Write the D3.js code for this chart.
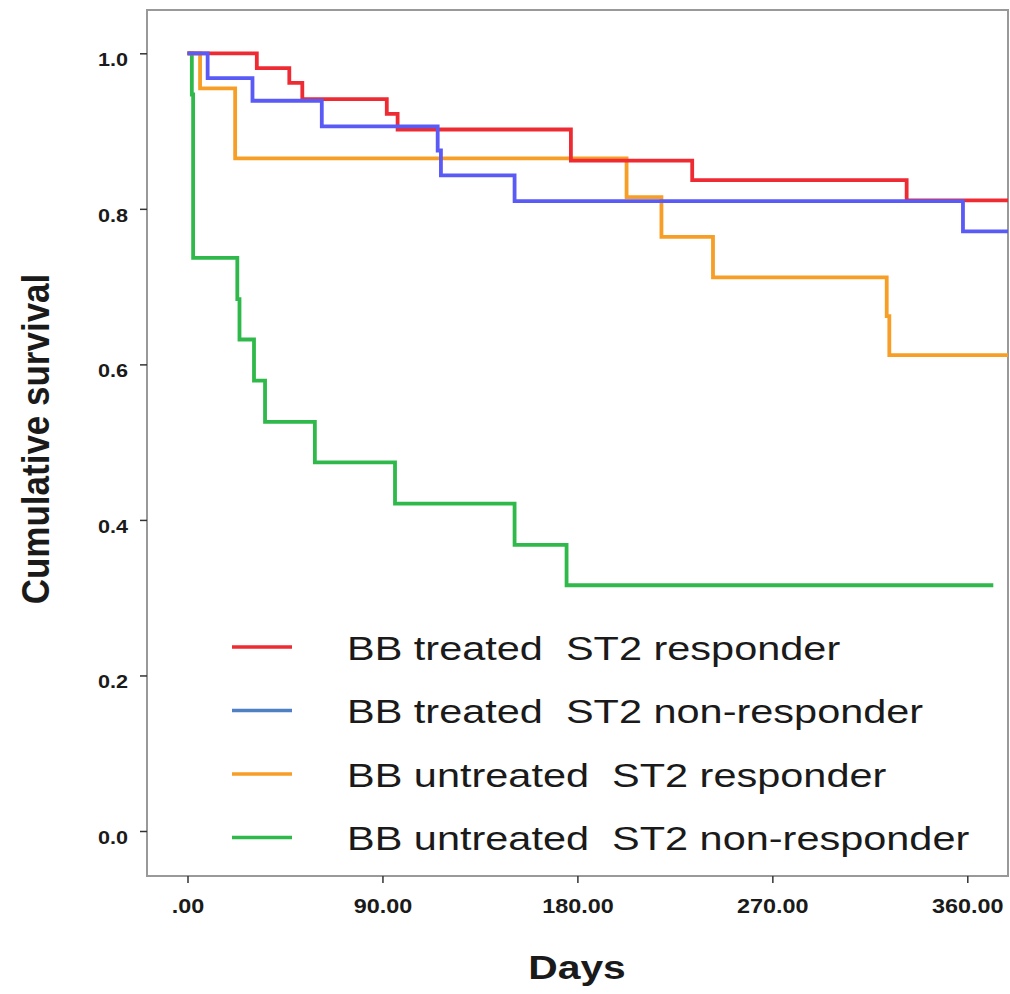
<!DOCTYPE html>
<meta charset="utf-8">
<style>
body { margin: 0; background: #fff; }
text { font-family: Arial, "Liberation Sans", sans-serif; fill: #1a1a1a; }
.tick line { stroke: #333; stroke-width: 1.5px; }
.tick text { font-weight: bold; }
.curve { fill: none; stroke-width: 3.8px; stroke-linejoin: miter; }
</style>
<svg width="1010" height="994"></svg>
<script src="https://cdn.jsdelivr.net/npm/d3@7"></script>
<script>

// survival steps (days, cumulative survival)
var redDays   = [0, 32, 47, 53, 92, 97, 177, 233, 332];
var redSurv   = [1, 0.981, 0.962, 0.941, 0.922, 0.902, 0.862, 0.837, 0.811];
var blueDays  = [0, 9.3, 30, 62, 115.5, 117, 151, 358];
var blueSurv  = [1, 0.968, 0.939, 0.906, 0.875, 0.843, 0.81, 0.771];
var orangeDays = [0, 5.8, 22, 202.7, 218.8, 242.6, 322.8, 324];
var orangeSurv = [1, 0.955, 0.865, 0.815, 0.764, 0.712, 0.662, 0.612];
var greenDays = [0, 2, 2.6, 23, 24, 30.7, 35.8, 58.8, 95.8, 151, 175];
var greenSurv = [1, 0.947, 0.737, 0.684, 0.632, 0.579, 0.526, 0.474, 0.421, 0.368, 0.316];
var lastDay = [379, 379, 379, 372];

var groups = ["BB treated  ST2 responder", "BB treated  ST2 non-responder",
              "BB untreated  ST2 responder", "BB untreated  ST2 non-responder"];
var lineColors = ["#ee2b33", "#5a5af6", "#f79e26", "#2fb94a"];
var keyColors = ["#ee2b33", "#4f80c4", "#f79e26", "#2fb94a"];

var xTicks = [0, 90, 180, 270, 360];
var yTicks = [0, 0.2, 0.4, 0.6, 0.8, 1.0];

var svg = d3.select("svg"),
    frame = {left: 147, top: 10, right: 1008, bottom: 876},
    sx = 1.2; // the picture's text is a bit wide

var x = d3.scaleLinear().domain([0, 360]).range([187.5, 967.3]);
var y = d3.scaleLinear().domain([0, 1]).range([831, 53.3]);

svg.append("clipPath").attr("id", "clip")
  .append("rect")
    .attr("x", frame.left).attr("y", frame.top)
    .attr("width", frame.right - frame.left)
    .attr("height", frame.bottom - frame.top);

svg.append("rect")
    .attr("x", frame.left).attr("y", frame.top)
    .attr("width", frame.right - frame.left)
    .attr("height", frame.bottom - frame.top)
    .attr("fill", "#fff")
    .attr("stroke", "#999")
    .attr("stroke-width", 2);

// axes
var yAxis = svg.append("g")
    .attr("transform", "translate(" + frame.left + ",0)")
    .call(d3.axisLeft(y).tickValues(yTicks).tickSize(7).tickSizeOuter(0)
      .tickFormat(d3.format(".1f")));
yAxis.select(".domain").remove();
yAxis.selectAll(".tick text")
    .attr("font-size", 18)
    .attr("x", -19 / sx)
    .attr("dy", 0)
    .attr("y", 12.5)
    .attr("transform", "scale(" + sx + ",1)");

var xAxis = svg.append("g")
    .attr("transform", "translate(0," + frame.bottom + ")")
    .call(d3.axisBottom(x).tickValues(xTicks).tickSize(7).tickSizeOuter(0)
      .tickFormat(function(d) { return d === 0 ? ".00" : d.toFixed(2); }));
xAxis.select(".domain").remove();
xAxis.selectAll(".tick text")
    .attr("font-size", 19.5)
    .attr("y", 37.5)
    .attr("dy", 0)
    .attr("transform", "scale(" + sx + ",1)");

// curves
var series = [
  {days: greenDays, surv: greenSurv, end: lastDay[3], color: lineColors[3]},
  {days: orangeDays, surv: orangeSurv, end: lastDay[2], color: lineColors[2]},
  {days: redDays, surv: redSurv, end: lastDay[0], color: lineColors[0]},
  {days: blueDays, surv: blueSurv, end: lastDay[1], color: lineColors[1]}
];

var line = d3.line()
    .x(function(d) { return x(d[0]); })
    .y(function(d) { return y(d[1]); })
    .curve(d3.curveStepAfter);

svg.append("g").attr("clip-path", "url(#clip)")
  .selectAll("path")
  .data(series)
  .enter().append("path")
    .attr("class", "curve")
    .attr("stroke", function(d) { return d.color; })
    .attr("d", function(d) {
      var pts = d.days.map(function(t, i) { return [t, d.surv[i]]; });
      pts.push([d.end, d.surv[d.surv.length - 1]]);
      return line(pts);
    });

// legend
var key = svg.append("g").selectAll("g")
  .data(groups)
  .enter().append("g")
    .attr("transform", function(d, i) { return "translate(0," + (647 + i * 63.5) + ")"; });

key.append("line")
    .attr("x1", 232).attr("x2", 292)
    .attr("stroke", function(d, i) { return keyColors[i]; })
    .attr("stroke-width", 3.5);

key.append("text")
    .attr("transform", "translate(347,12.5) scale(1.22,1)")
    .attr("font-size", 34)
    .style("white-space", "pre")
    .text(function(d) { return d; });

// titles
svg.append("text")
    .attr("transform", "translate(577,979) scale(" + sx + ",1)")
    .attr("text-anchor", "middle")
    .attr("font-size", 34)
    .attr("font-weight", "bold")
    .text("Days");

svg.append("text")
    .attr("transform", "translate(49,439) scale(1.12,1) rotate(-90)")
    .attr("text-anchor", "middle")
    .attr("font-size", 35)
    .attr("font-weight", "bold")
    .text("Cumulative survival");

</script>
